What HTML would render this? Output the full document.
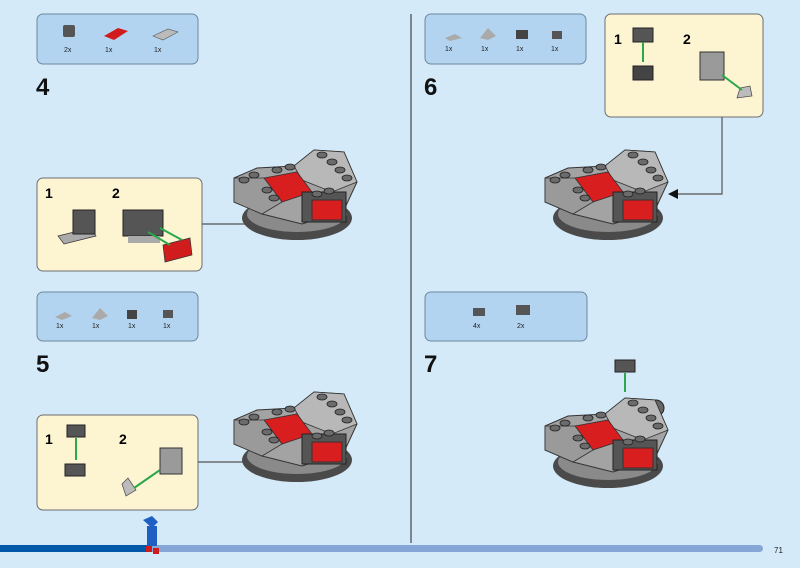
<!DOCTYPE html>
<html><head><meta charset="utf-8"><style>
html,body{margin:0;padding:0;background:#d4eaf9;}
svg{display:block;font-family:"Liberation Sans",sans-serif;}
</style></head><body>
<svg width="800" height="568" viewBox="0 0 800 568" xmlns="http://www.w3.org/2000/svg">
<defs>
<g id="model">
  <ellipse cx="65" cy="68" rx="55" ry="22" fill="#4a4a4a"/>
  <ellipse cx="65" cy="64" rx="50" ry="18" fill="#8a8a8a"/>
  <polygon points="2,28 2,52 30,64 70,74 112,60 125,32 112,2 82,0 62,16 25,18" fill="#a3a3a3" stroke="#333" stroke-width="1"/>
  <polygon points="82,0 112,2 125,32 100,42 70,30 62,16" fill="#b8b8b8" stroke="#333" stroke-width="0.8"/>
  <polygon points="32,28 65,22 80,42 50,52" fill="#d81e1e" stroke="#333" stroke-width="0.8"/>
  <polygon points="2,28 32,28 50,52 30,64 2,52" fill="#9a9a9a" stroke="#333" stroke-width="0.8"/>
  <rect x="70" y="42" width="44" height="30" fill="#555" stroke="#222"/>
  <rect x="80" y="50" width="30" height="20" fill="#d81e1e" stroke="#333"/>
  <g fill="#6b6b6b" stroke="#222" stroke-width="0.8">
    <ellipse cx="12" cy="30" rx="5" ry="3"/><ellipse cx="22" cy="25" rx="5" ry="3"/>
    <ellipse cx="35" cy="40" rx="5" ry="3"/><ellipse cx="42" cy="48" rx="5" ry="3"/>
    <ellipse cx="45" cy="20" rx="5" ry="3"/><ellipse cx="58" cy="17" rx="5" ry="3"/>
    <ellipse cx="90" cy="5" rx="5" ry="3"/><ellipse cx="100" cy="12" rx="5" ry="3"/>
    <ellipse cx="108" cy="20" rx="5" ry="3"/><ellipse cx="115" cy="28" rx="5" ry="3"/>
    <ellipse cx="85" cy="44" rx="5" ry="3"/><ellipse cx="97" cy="41" rx="5" ry="3"/>
  </g>
</g>
</defs>

<!-- Step 4 -->
<rect x="37" y="14" width="161" height="50" rx="6" fill="#b3d4f0" stroke="#6d879d"/>
<rect x="63" y="25" width="12" height="12" rx="2" fill="#555"/>
<polygon points="104,36 118,28 128,31 114,40" fill="#d01c1c"/>
<polygon points="153,36 168,29 178,32 163,40" fill="#bbb" stroke="#555" stroke-width="0.6"/>
<g font-size="7" fill="#222"><text x="64" y="52">2x</text><text x="105" y="52">1x</text><text x="154" y="52">1x</text></g>
<text x="36" y="95" font-size="24" font-weight="bold" fill="#111">4</text>

<rect x="37" y="178" width="165" height="93" rx="6" fill="#fdf4d2" stroke="#6d6d6d"/>
<text x="45" y="198" font-size="14" font-weight="bold">1</text>
<text x="112" y="198" font-size="14" font-weight="bold">2</text>
<polygon points="58,236 90,228 96,236 64,244" fill="#aaa" stroke="#333" stroke-width="0.7"/>
<rect x="73" y="210" width="22" height="24" fill="#555" stroke="#222"/>
<rect x="123" y="210" width="40" height="26" fill="#555" stroke="#222"/>
<polygon points="128,236 160,236 160,243 128,243" fill="#aaa"/>
<polygon points="163,245 190,238 192,255 165,262" fill="#d01c1c" stroke="#333" stroke-width="0.7"/>
<line x1="170" y1="245" x2="148" y2="232" stroke="#2aa84a" stroke-width="2"/>
<line x1="182" y1="240" x2="160" y2="228" stroke="#2aa84a" stroke-width="2"/>
<line x1="202" y1="224" x2="270" y2="224" stroke="#555" stroke-width="1.2"/>
<polygon points="270,219 280,224 270,229" fill="#111"/>
<use href="#model" x="232" y="150"/>

<!-- Step 5 -->
<rect x="37" y="292" width="161" height="49" rx="6" fill="#b3d4f0" stroke="#6d879d"/>
<polygon points="55,317 65,312 72,316 62,320" fill="#aaa"/>
<polygon points="92,318 100,308 108,316 100,320" fill="#aaa"/>
<rect x="127" y="310" width="10" height="9" fill="#444"/>
<rect x="163" y="310" width="10" height="8" fill="#555"/>
<g font-size="7" fill="#222"><text x="56" y="328">1x</text><text x="92" y="328">1x</text><text x="128" y="328">1x</text><text x="163" y="328">1x</text></g>
<text x="36" y="372" font-size="24" font-weight="bold" fill="#111">5</text>

<rect x="37" y="415" width="161" height="95" rx="6" fill="#fdf4d2" stroke="#6d6d6d"/>
<text x="45" y="444" font-size="14" font-weight="bold">1</text>
<text x="119" y="444" font-size="14" font-weight="bold">2</text>
<rect x="67" y="425" width="18" height="12" fill="#555" stroke="#222"/>
<line x1="76" y1="438" x2="76" y2="460" stroke="#2aa84a" stroke-width="2"/>
<rect x="65" y="464" width="20" height="12" fill="#555" stroke="#222"/>
<rect x="160" y="448" width="22" height="26" fill="#9a9a9a" stroke="#333"/>
<polygon points="122,484 128,478 136,490 126,496" fill="#bbb" stroke="#444" stroke-width="0.7"/>
<line x1="134" y1="488" x2="160" y2="470" stroke="#2aa84a" stroke-width="2"/>
<line x1="198" y1="462" x2="266" y2="462" stroke="#555" stroke-width="1.2"/>
<polygon points="266,457 276,462 266,467" fill="#111"/>
<use href="#model" x="232" y="392"/>

<!-- divider -->
<line x1="411" y1="14" x2="411" y2="543" stroke="#222" stroke-width="1"/>

<!-- Step 6 -->
<rect x="425" y="14" width="161" height="50" rx="6" fill="#b3d4f0" stroke="#6d879d"/>
<polygon points="445,38 455,34 462,38 450,41" fill="#aaa"/>
<polygon points="480,38 488,28 496,36 488,40" fill="#aaa"/>
<rect x="516" y="30" width="12" height="9" fill="#444"/>
<rect x="552" y="31" width="10" height="8" fill="#555"/>
<g font-size="7" fill="#222"><text x="445" y="51">1x</text><text x="481" y="51">1x</text><text x="516" y="51">1x</text><text x="551" y="51">1x</text></g>
<text x="424" y="95" font-size="24" font-weight="bold" fill="#111">6</text>

<rect x="605" y="14" width="158" height="103" rx="6" fill="#fdf4d2" stroke="#6d6d6d"/>
<text x="614" y="44" font-size="14" font-weight="bold">1</text>
<text x="683" y="44" font-size="14" font-weight="bold">2</text>
<rect x="633" y="28" width="20" height="14" fill="#555" stroke="#222"/>
<line x1="643" y1="42" x2="643" y2="62" stroke="#2aa84a" stroke-width="2"/>
<rect x="633" y="66" width="20" height="14" fill="#444" stroke="#222"/>
<rect x="700" y="52" width="24" height="28" fill="#9a9a9a" stroke="#333"/>
<polygon points="737,98 740,88 750,86 752,96" fill="#bbb" stroke="#444" stroke-width="0.7"/>
<line x1="742" y1="90" x2="722" y2="75" stroke="#2aa84a" stroke-width="2"/>
<polyline points="722,117 722,194 678,194" fill="none" stroke="#555" stroke-width="1.2"/>
<polygon points="678,189 668,194 678,199" fill="#111"/>
<use href="#model" x="543" y="150"/>

<!-- Step 7 -->
<rect x="425" y="292" width="162" height="49" rx="6" fill="#b3d4f0" stroke="#6d879d"/>
<rect x="473" y="308" width="12" height="8" fill="#555"/>
<rect x="516" y="305" width="14" height="10" fill="#555"/>
<g font-size="7" fill="#222"><text x="473" y="328">4x</text><text x="517" y="328">2x</text></g>
<text x="424" y="372" font-size="24" font-weight="bold" fill="#111">7</text>
<rect x="615" y="360" width="20" height="12" fill="#555" stroke="#222"/>
<line x1="625" y1="373" x2="625" y2="392" stroke="#2aa84a" stroke-width="2"/>
<circle cx="656" cy="408" r="8" fill="#666" stroke="#222"/>
<use href="#model" x="543" y="398"/>

<!-- bottom bar -->
<rect x="0" y="545" width="763" height="7" rx="3.5" fill="#86a6d8"/>
<rect x="0" y="545" width="150" height="7" fill="#0059a8"/>
<g>
  <path d="M143,520 L152,516 L158,522 L152,528 Z" fill="#1d5fc2"/>
  <rect x="147" y="526" width="10" height="20" fill="#1d5fc2"/>
  <rect x="146" y="546" width="6" height="6" fill="#d01c1c"/>
  <rect x="153" y="548" width="6" height="6" fill="#d01c1c"/>
</g>
<text x="774" y="553" font-size="8" fill="#222">71</text>
</svg>
</body></html>
